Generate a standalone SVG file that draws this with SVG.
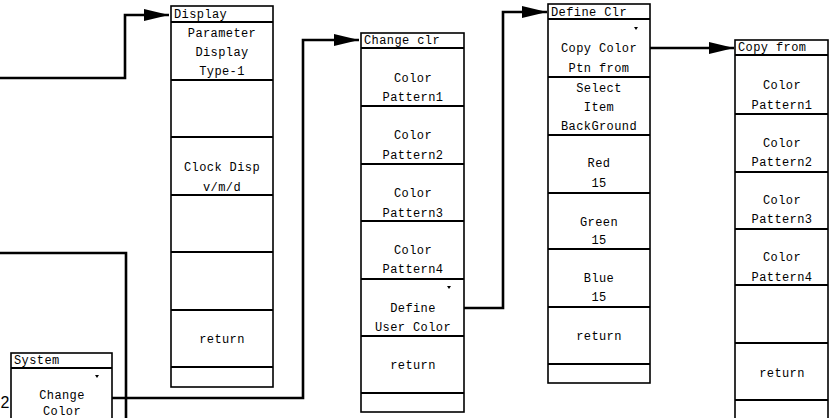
<svg xmlns="http://www.w3.org/2000/svg" width="830" height="418" viewBox="0 0 830 418">
<style>
.bg{fill:#fff}
.box{fill:#fff;stroke:#000;stroke-width:1.6}
.div{stroke:#000;stroke-width:2;fill:none}
.conn{stroke:#000;stroke-width:2.6;fill:none}
text{font-family:"Liberation Mono","Courier New",monospace;font-size:12px;letter-spacing:0.4px;fill:#000}
.c{text-anchor:middle}
.num{font-family:"Liberation Sans",Arial,sans-serif;font-size:16px;letter-spacing:0}
.mk{fill:#000}
</style>
<defs>
<marker id="ah" markerUnits="userSpaceOnUse" markerWidth="26" markerHeight="14" refX="25" refY="7" orient="auto">
<path d="M0,1 L25,7 L0,13 z" fill="#000"/>
</marker>
</defs>
<rect class="bg" x="0" y="0" width="830" height="418"/>

<g id="connectors">
<polyline class="conn" points="0,78 125,78 125,15 169,15" marker-end="url(#ah)"/>
<polyline class="conn" points="0,253 126,253 126,420"/>
<polyline class="conn" points="112,398 303,398 303,40 359,40" marker-end="url(#ah)"/>
<polyline class="conn" points="464,308 503,308 503,12 547,12" marker-end="url(#ah)"/>
<polyline class="conn" points="650,48 734,48" marker-end="url(#ah)"/>
</g>

<g id="display">
<rect class="box" x="171" y="6" width="102" height="381"/>
<path class="div" d="M171,22H273M171,80H273M171,137H273M171,195H273M171,252H273M171,310H273M171,367H273"/>
<text x="174" y="18">Display</text>
<text class="c" x="222" y="37">Parameter</text>
<text class="c" x="222" y="56">Display</text>
<text class="c" x="222" y="75">Type-1</text>
<text class="c" x="222" y="171">Clock Disp</text>
<text class="c" x="222" y="191">v/m/d</text>
<text class="c" x="222" y="343">return</text>
</g>

<g id="change-clr">
<rect class="box" x="361" y="33" width="103" height="379"/>
<path class="div" d="M361,48H464M361,106H464M361,164H464M361,221H464M361,279H464M361,336H464M361,393H464"/>
<text x="364" y="44">Change clr</text>
<text class="c" x="413" y="82">Color</text>
<text class="c" x="413" y="101">Pattern1</text>
<text class="c" x="413" y="139">Color</text>
<text class="c" x="413" y="159">Pattern2</text>
<text class="c" x="413" y="197">Color</text>
<text class="c" x="413" y="217">Pattern3</text>
<text class="c" x="413" y="254">Color</text>
<text class="c" x="413" y="273">Pattern4</text>
<path class="mk" d="M447,286h4l-2,3z"/>
<text class="c" x="413" y="312">Define</text>
<text class="c" x="413" y="331">User Color</text>
<text class="c" x="413" y="369">return</text>
</g>

<g id="define-clr">
<rect class="box" x="548" y="4" width="102" height="379"/>
<path class="div" d="M548,19H650M548,77H650M548,135H650M548,193H650M548,249H650M548,307H650M548,364H650"/>
<text x="551" y="16">Define Clr</text>
<path class="mk" d="M634,27h4l-2,3z"/>
<text class="c" x="599" y="52">Copy Color</text>
<text class="c" x="599" y="72">Ptn from</text>
<text class="c" x="599" y="92">Select</text>
<text class="c" x="599" y="111">Item</text>
<text class="c" x="599" y="130">BackGround</text>
<text class="c" x="599" y="167">Red</text>
<text class="c" x="599" y="187">15</text>
<text class="c" x="599" y="226">Green</text>
<text class="c" x="599" y="244">15</text>
<text class="c" x="599" y="282">Blue</text>
<text class="c" x="599" y="301">15</text>
<text class="c" x="599" y="340">return</text>
</g>

<g id="copy-from">
<rect class="box" x="735" y="40" width="93" height="390"/>
<path class="div" d="M735,55H828M735,114H828M735,172H828M735,229H828M735,285H828M735,343H828M735,400H828"/>
<text x="738" y="51">Copy from</text>
<text class="c" x="782" y="89">Color</text>
<text class="c" x="782" y="109">Pattern1</text>
<text class="c" x="782" y="147">Color</text>
<text class="c" x="782" y="166">Pattern2</text>
<text class="c" x="782" y="204">Color</text>
<text class="c" x="782" y="223">Pattern3</text>
<text class="c" x="782" y="261">Color</text>
<text class="c" x="782" y="281">Pattern4</text>
<text class="c" x="782" y="377">return</text>
</g>

<g id="system">
<rect class="box" x="11" y="353" width="101" height="80"/>
<path class="div" d="M11,368H112"/>
<text x="14" y="364">System</text>
<path class="mk" d="M95,375h4l-2,3z"/>
<text class="c" x="62" y="399">Change</text>
<text class="c" x="62" y="415">Color</text>
</g>

<text class="num" x="0.5" y="408">2</text>
</svg>
